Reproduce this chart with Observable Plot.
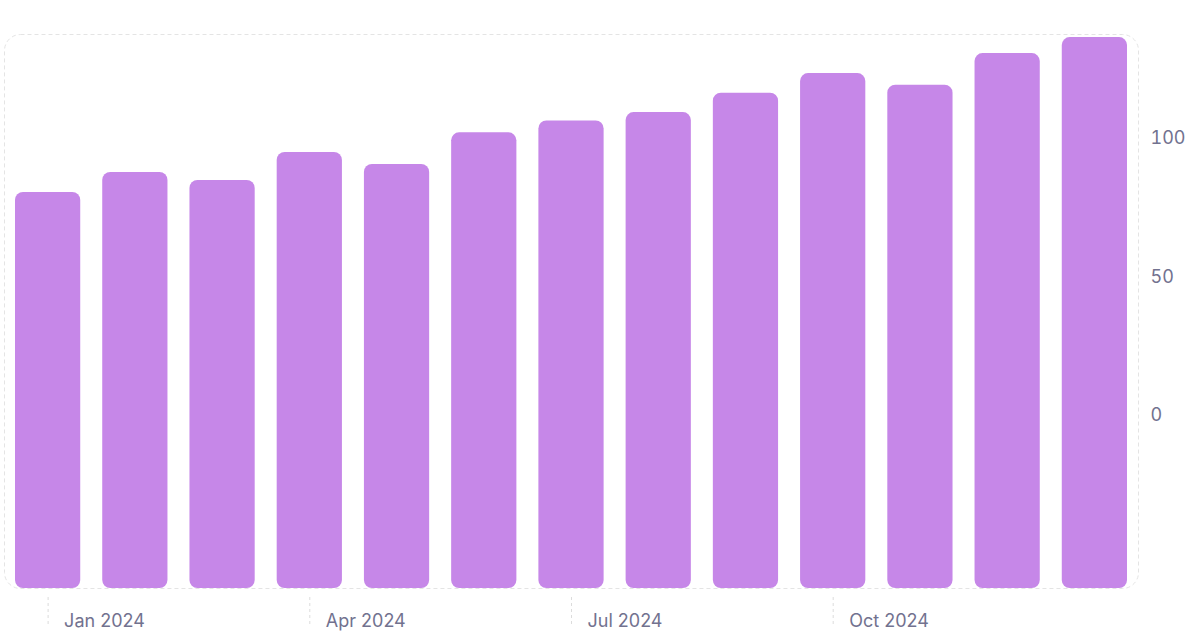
<!DOCTYPE html>
<html>
<head>
<meta charset="utf-8">
<script src="https://cdn.jsdelivr.net/npm/d3@7"></script>
<script src="https://cdn.jsdelivr.net/npm/@observablehq/plot@0.6"></script>
<style>
  html, body { margin: 0; padding: 0; background: #ffffff; }
  #chart { width: 1185px; height: 640px; }
</style>
</head>
<body>
<div id="chart"></div>
<script>
const months = ["Jan 2024","Feb 2024","Mar 2024","Apr 2024","May 2024","Jun 2024","Jul 2024","Aug 2024","Sep 2024","Oct 2024","Nov 2024","Dec 2024","Jan 2025"];
const values = [80.5, 87.7, 84.8, 94.9, 90.6, 102.0, 106.3, 109.3, 116.3, 123.4, 119.2, 130.6, 136.4];
const xTicks = ["Jan 2024","Apr 2024","Jul 2024","Oct 2024"];
const yTicks = [0, 50, 100];
const yDomain = [-62.5, 137.5];

const data = months.map((m, i) => ({month: m, value: values[i]}));
const textColor = "#72728f";

const chart = Plot.plot({
  width: 1185,
  height: 640,
  marginTop: 34,
  marginBottom: 52,
  marginLeft: 4,
  marginRight: 47,
  style: {fontFamily: "Inter, sans-serif", fontSize: "18px", background: "#ffffff"},
  x: {type: "band", domain: months, padding: 0, round: false, label: null},
  y: {domain: yDomain, label: null},
  marks: [
    Plot.frame({stroke: "#e4e4e4", strokeDasharray: "4,3", rx: 16}),
    Plot.barY(data, {x: "month", y1: yDomain[0], y2: "value", fill: "#c687e8", rx: 8, insetLeft: 11, insetRight: 11}),
    Plot.axisY({anchor: "right", ticks: yTicks, tickSize: 0, tickPadding: 12, color: textColor, fontSize: 18, label: null}),
    Plot.axisX({ticks: xTicks, tickSize: 28, dy: 9, tickFormat: () => "", stroke: "#dcdcdc", strokeDasharray: "3,3", label: null}),
    Plot.axisX({ticks: xTicks, tickSize: 0, tickPadding: 26, textAnchor: "start", dx: 16, color: textColor, fontSize: 18, label: null})
  ]
});
document.getElementById("chart").appendChild(chart);
</script>
</body>
</html>
